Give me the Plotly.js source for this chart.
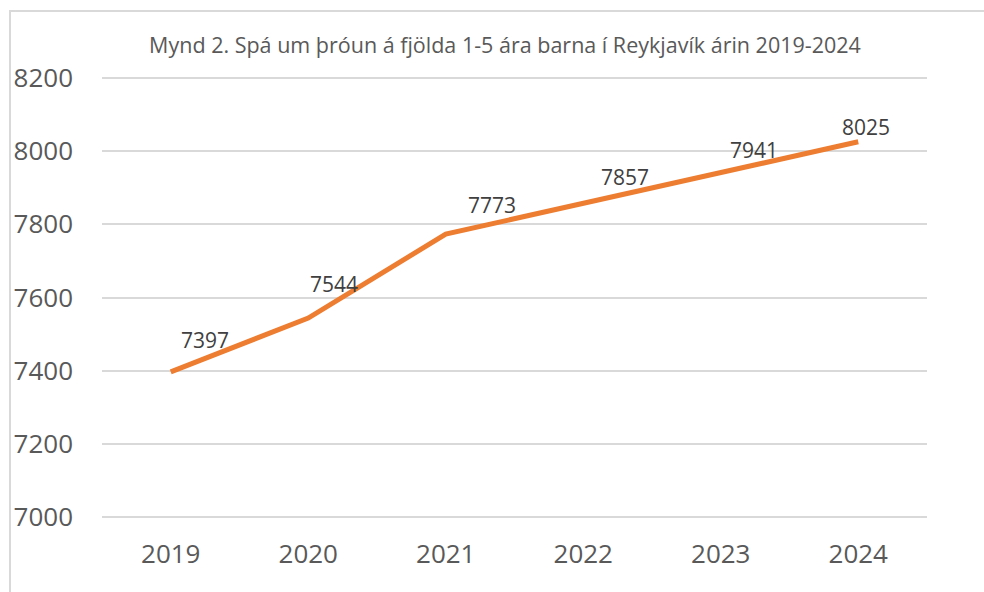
<!DOCTYPE html>
<html>
<head>
<meta charset="utf-8">
<script src="https://cdn.plot.ly/plotly-3.0.1.min.js"></script>
<style>
  html, body { margin: 0; padding: 0; background: #fff; }
  #wrap { position: relative; width: 984px; height: 592px; overflow: hidden; }
  #chart { width: 984px; height: 592px; }
  #frame { position: absolute; left: 9px; top: 10px; width: 1200px; height: 800px;
           border: 2px solid #d9d9d9; pointer-events: none; box-sizing: border-box; }
</style>
</head>
<body>
<div id="wrap">
  <div id="chart"></div>
  <div id="frame"></div>
</div>
<script>
const years = ["2019", "2020", "2021", "2022", "2023", "2024"];
const children = [7397, 7544, 7773, 7857, 7941, 8025];
const yTicks = [7000, 7200, 7400, 7600, 7800, 8000, 8200];
const titleText = "Mynd 2. Spá um þróun á fjölda 1-5 ára barna í Reykjavík árin 2019-2024";

// label offsets (pixels) relative to each point
const labelDx = [34, 26, 46, 42, 33, 8];
const labelDy = [32, 34, 29, 26, 23, 15];

const FONT = "Open Sans, Liberation Sans, sans-serif";

const annotations = years.map((yr, i) => ({
  x: i, y: children[i], xref: "x", yref: "y",
  text: String(children[i]), showarrow: false,
  xshift: labelDx[i], yshift: labelDy[i],
  font: { family: FONT, size: 21, color: "#404040" }
}));

const trace = {
  type: "scatter", mode: "lines",
  x: years, y: children,
  line: { color: "#ED7D31", width: 5 },
  hoverinfo: "x+y"
};

const layout = {
  width: 984, height: 592,
  margin: { l: 102, r: 57, t: 74, b: 71 },
  paper_bgcolor: "#ffffff", plot_bgcolor: "#ffffff",
  showlegend: false,
  title: {
    text: titleText, x: 505 / 984, xref: "container", xanchor: "center",
    y: 1 - 45 / 592, yref: "container", yanchor: "middle",
    font: { family: FONT, size: 21.5, color: "#595959" }
  },
  xaxis: {
    type: "category", range: [-0.5, 5.5],
    showgrid: false, zeroline: false, showline: false, ticks: "",
    tickfont: { family: FONT, size: 26, color: "#595959" },
    ticklabelstandoff: 15
  },
  yaxis: {
    range: [6990, 8210], tickvals: yTicks, ticktext: yTicks.map(String),
    showgrid: true, gridcolor: "#d9d9d9", gridwidth: 2,
    zeroline: false, showline: false, ticks: "",
    tickfont: { family: FONT, size: 26, color: "#595959" },
    ticklabelstandoff: 28
  },
  annotations: annotations
};

Plotly.newPlot("chart", [trace], layout, { displayModeBar: false, staticPlot: true });
</script>
</body>
</html>
